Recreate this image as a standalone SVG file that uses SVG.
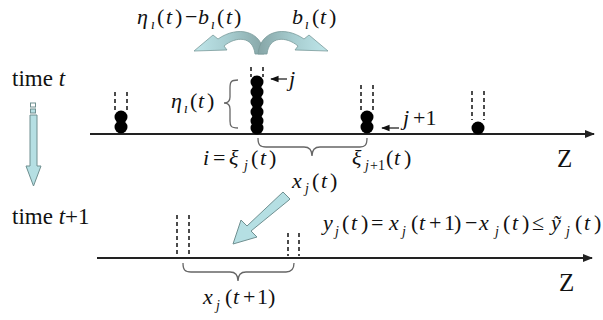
<svg xmlns="http://www.w3.org/2000/svg" width="603" height="320" viewBox="0 0 603 320">
<defs>
<marker id="ah" viewBox="0 0 10 10" refX="9" refY="5" markerWidth="7" markerHeight="7" orient="auto"><path d="M0,1 L10,5 L0,9 Z" fill="#111"/></marker>
<marker id="axh" viewBox="0 0 10 10" refX="9" refY="5" markerWidth="5" markerHeight="5" orient="auto"><path d="M0,1 L10,5 L0,9 Z" fill="#222"/></marker>
<linearGradient id="cg" x1="1" y1="0" x2="0" y2="0"><stop offset="0" stop-color="#86a5a6"/><stop offset="0.5" stop-color="#a6cccf"/><stop offset="1" stop-color="#bfe6ea"/></linearGradient>
</defs>
<rect width="603" height="320" fill="#fff"/>

<g id="axes" stroke="#222" stroke-width="2" fill="none">
<line x1="90" y1="134" x2="594" y2="134" marker-end="url(#axh)"/>
<line x1="97" y1="258" x2="592" y2="258" marker-end="url(#axh)"/>
</g>

<g id="time-arrow" stroke="#6f8f90" stroke-width="1">
<rect x="30.5" y="103" width="5" height="4" fill="#fff"/>
<rect x="30.5" y="109" width="5" height="4" fill="#b5dfe3"/>
<path fill="#b5dfe3" d="M30 115 L37 115 L37 166 L41 166 L33.5 186 L26 166 L30 166 Z"/>
</g>

<g id="curved-arrows" fill="url(#cg)" stroke="#7a9a9b" stroke-width="0.8">
<path d="M264 54 C262 31,238 25,218 39 L213 35 L194 51 L227 50 L224 46 C236 36,253 36,255 54 Z"/>
<path transform="translate(522,0) scale(-1,1)" d="M264 54 C262 31,238 25,218 39 L213 35 L194 51 L227 50 L224 46 C236 36,253 36,255 54 Z"/>
</g>

<g id="stack1">
<g stroke="#111" stroke-width="1.5" stroke-dasharray="4 3"><line x1="115" y1="92" x2="115" y2="111"/><line x1="127" y1="92" x2="127" y2="111"/></g>
<circle cx="121" cy="117" r="6.5" fill="#000"/>
<circle cx="121" cy="127" r="6.5" fill="#000"/>
</g>

<g id="stack2">
<g stroke="#111" stroke-width="1.5" stroke-dasharray="4 3"><line x1="251" y1="67" x2="251" y2="77"/><line x1="263" y1="67" x2="263" y2="77"/></g>
<g fill="#000">
<circle cx="257" cy="82" r="6.5"/>
<circle cx="257" cy="92" r="6.5"/>
<circle cx="257" cy="102" r="6.5"/>
<circle cx="257" cy="112" r="6.5"/>
<circle cx="257" cy="121" r="6.5"/>
<circle cx="257" cy="128" r="6.5"/>
</g>
</g>

<g id="stack3">
<g stroke="#111" stroke-width="1.5" stroke-dasharray="4 3"><line x1="361" y1="85" x2="361" y2="110"/><line x1="373" y1="85" x2="373" y2="110"/></g>
<circle cx="367" cy="117" r="6.5" fill="#000"/>
<circle cx="367" cy="127" r="6.5" fill="#000"/>
</g>

<g id="stack4">
<g stroke="#111" stroke-width="1.5" stroke-dasharray="4 3"><line x1="472" y1="91" x2="472" y2="120"/><line x1="484" y1="91" x2="484" y2="120"/></g>
<circle cx="478" cy="128" r="6.5" fill="#000"/>
</g>

<g id="bottom-marks" stroke="#111" stroke-width="1.5" stroke-dasharray="4 3">
<line x1="177" y1="215" x2="177" y2="256"/>
<line x1="189" y1="215" x2="189" y2="256"/>
<line x1="288" y1="233" x2="288" y2="256"/>
<line x1="299" y1="233" x2="299" y2="256"/>
</g>

<g id="diag-arrow">
<path fill="#b5dfe3" stroke="#6f8f90" stroke-width="1" d="M290 199 L283 192 L247 226 L241 220 L233 244 L257 237 L251 231 L289 200 Z"/>
</g>

<g id="braces" stroke="#666" stroke-width="1.3" fill="none">
<path d="M238 80 C231 80,230 82,230 88 L230 97 C230 101,228 103,224 103 C228 103,230 105,230 109 L230 121 C230 126,231 128,238 128"/>
<path d="M258 138 C258 145,260 147,266 147 L304 147 C309 147,312 149,312 156 C312 149,315 147,320 147 L360 147 C365 147,367 145,367 138"/>
<path d="M183 263 C183 270,185 272,191 272 L230 272 C235 272,238 274,238 281 C238 274,241 272,246 272 L286 272 C291 272,294 270,294 263"/>
</g>

<g id="connectors" stroke="#111" stroke-width="1.2" fill="none">
<line x1="287" y1="79" x2="271" y2="79" marker-end="url(#ah)"/>
<line x1="399" y1="128" x2="382" y2="128" marker-end="url(#ah)"/>
</g>

<g id="labels" fill="#111" font-family="Liberation Serif" font-size="22">
<text x="12" y="86" font-size="23">time <tspan font-style="italic">t</tspan></text>
<text x="12" y="224" font-size="23">time <tspan font-style="italic">t</tspan>+1</text>

<text><tspan x="137" y="24" font-style="italic">&#951;</tspan><tspan x="151" y="29" font-style="italic" font-size="14">&#305;</tspan><tspan x="157" y="24">(</tspan><tspan x="166" y="24" font-style="italic">t</tspan><tspan x="175" y="24">)</tspan><tspan x="185" y="24">&#8722;</tspan><tspan x="198" y="24" font-style="italic">b</tspan><tspan x="211" y="29" font-style="italic" font-size="14">&#305;</tspan><tspan x="217" y="24">(</tspan><tspan x="226" y="24" font-style="italic">t</tspan><tspan x="234" y="24">)</tspan></text>

<text><tspan x="292" y="24" font-style="italic">b</tspan><tspan x="305" y="29" font-style="italic" font-size="14">&#305;</tspan><tspan x="312" y="24">(</tspan><tspan x="320" y="24" font-style="italic">t</tspan><tspan x="329" y="24">)</tspan></text>

<text><tspan x="171" y="108" font-style="italic">&#951;</tspan><tspan x="184" y="113" font-style="italic" font-size="14">&#305;</tspan><tspan x="190" y="108">(</tspan><tspan x="198" y="108" font-style="italic">t</tspan><tspan x="207" y="108">)</tspan></text>

<text x="289" y="86" font-style="italic">j</text>
<text><tspan x="403" y="125" font-style="italic">j</tspan><tspan x="413" y="125">+1</tspan></text>

<text><tspan x="203" y="165" font-style="italic">i</tspan><tspan x="213" y="165">=</tspan><tspan x="229" y="165" font-style="italic">&#958;</tspan><tspan x="244" y="170" font-style="italic" font-size="14">j</tspan><tspan x="251" y="165">(</tspan><tspan x="260" y="165" font-style="italic">t</tspan><tspan x="269" y="165">)</tspan></text>

<text><tspan x="352" y="165" font-style="italic">&#958;</tspan><tspan x="365" y="170" font-style="italic" font-size="14">j</tspan><tspan x="370" y="170" font-size="14">+1</tspan><tspan x="386" y="165">(</tspan><tspan x="394" y="165" font-style="italic">t</tspan><tspan x="404" y="165">)</tspan></text>

<text><tspan x="292" y="188" font-style="italic">x</tspan><tspan x="305" y="193" font-style="italic" font-size="14">j</tspan><tspan x="312" y="188">(</tspan><tspan x="321" y="188" font-style="italic">t</tspan><tspan x="330" y="188">)</tspan></text>

<text x="557" y="167" font-size="25">Z</text>
<text x="559" y="291" font-size="25">Z</text>

<text><tspan x="323" y="230" font-style="italic">y</tspan><tspan x="335" y="236" font-style="italic" font-size="14">j</tspan><tspan x="342" y="230">(</tspan><tspan x="351" y="230" font-style="italic">t</tspan><tspan x="361" y="230">)</tspan><tspan x="371" y="230">=</tspan><tspan x="389" y="230" font-style="italic">x</tspan><tspan x="402" y="236" font-style="italic" font-size="14">j</tspan><tspan x="411" y="230">(</tspan><tspan x="419" y="230" font-style="italic">t</tspan><tspan x="429" y="230">+</tspan><tspan x="444" y="230">1</tspan><tspan x="454" y="230">)</tspan><tspan x="465" y="230">&#8722;</tspan><tspan x="479" y="230" font-style="italic">x</tspan><tspan x="495" y="236" font-style="italic" font-size="14">j</tspan><tspan x="503" y="230">(</tspan><tspan x="512" y="230" font-style="italic">t</tspan><tspan x="522" y="230">)</tspan><tspan x="532" y="230">&#8804;</tspan><tspan x="551" y="230" font-style="italic">&#7929;</tspan><tspan x="566" y="236" font-style="italic" font-size="14">j</tspan><tspan x="575" y="230">(</tspan><tspan x="584" y="230" font-style="italic">t</tspan><tspan x="594" y="230">)</tspan></text>

<text><tspan x="203" y="304" font-style="italic">x</tspan><tspan x="216" y="310" font-style="italic" font-size="14">j</tspan><tspan x="225" y="304">(</tspan><tspan x="233" y="304" font-style="italic">t</tspan><tspan x="243" y="304">+</tspan><tspan x="257" y="304">1</tspan><tspan x="268" y="304">)</tspan></text>
</g>
</svg>
